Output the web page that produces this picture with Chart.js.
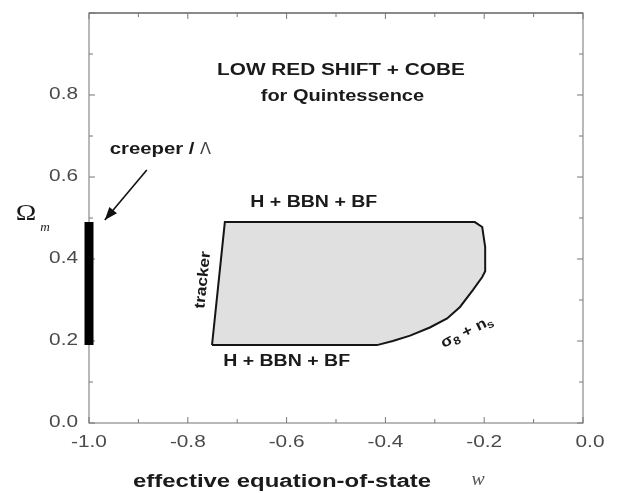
<html>
<body style="margin:0;background:#fff">
<canvas id="myChart" width="620" height="493"></canvas>
<script src="https://cdn.jsdelivr.net/npm/chart.js@4.4.0/dist/chart.umd.min.js"></script>
<script>

// allowed region: w vs Omega_m (traced clockwise from bottom-left corner)
const regionW     = [-0.751, -0.417, -0.385, -0.350, -0.310, -0.275, -0.249, -0.223, -0.204, -0.198, -0.198, -0.204, -0.219, -0.725, -0.751];
const regionOmega = [ 0.190,  0.190,  0.200,  0.213,  0.233,  0.255,  0.283,  0.324,  0.356,  0.370,  0.429,  0.478,  0.490,  0.490,  0.190];

// creeper / Lambda bar at w = -1
const creeperW     = [-1.0, -1.0];
const creeperOmega = [0.19, 0.49];

// arrow pointing at the bar (tail -> tip)
const arrowW     = [-0.883, -0.968];
const arrowOmega = [0.617, 0.495];

const xTickValues = [-1.0, -0.8, -0.6, -0.4, -0.2, 0.0];
const xTickLabels = ["-1.0", "-0.8", "-0.6", "-0.4", "-0.2", "0.0"];
const yTickValues = [0.0, 0.2, 0.4, 0.6, 0.8];
const yTickLabels = ["0.0", "0.2", "0.4", "0.6", "0.8"];

const pts = (xs, ys) => xs.map((x, i) => ({ x: x, y: ys[i] }));

// stretched text helper (the scan is wide), returns drawn width
function txt(ctx, s, x, y, font, opts) {
    opts = opts || {};
    const sx = opts.sx || 1.25;
    ctx.save();
    ctx.translate(x, y);
    if (opts.rot) ctx.rotate(opts.rot * Math.PI / 180);
    ctx.scale(sx, 1);
    ctx.font = font;
    ctx.fillStyle = opts.color || "#1a1a1a";
    ctx.textAlign = opts.align || "center";
    ctx.textBaseline = "middle";
    ctx.fillText(s, 0, 0);
    const w = ctx.measureText(s).width * sx;
    ctx.restore();
    return w;
}

const framePlugin = {
    id: "frame",
    beforeDatasetsDraw(chart) {
        const ctx = chart.ctx, a = chart.chartArea;
        const xs = chart.scales.x, ys = chart.scales.y;
        ctx.save();
        ctx.strokeStyle = "#8a8a8a";
        ctx.lineWidth = 1.2;
        ctx.strokeRect(a.left, a.top, a.right - a.left, a.bottom - a.top);
        ctx.lineWidth = 2.2;
        ctx.beginPath(); ctx.moveTo(a.left, a.top); ctx.lineTo(a.right, a.top); ctx.stroke();

        // inward tick marks, majors from the scale, minors halfway
        ctx.lineWidth = 1;
        ctx.strokeStyle = "#777";
        const xv = xs.ticks.map(t => t.value), yv = ys.ticks.map(t => t.value);
        const marks = (vals) => {
            const out = [];
            vals.forEach((v, i) => {
                out.push([v, 6]);
                if (i < vals.length - 1) out.push([(v + vals[i + 1]) / 2, 4]);
            });
            return out;
        };
        ctx.beginPath();
        marks(xv).forEach(([v, L]) => {
            const p = xs.getPixelForValue(v);
            ctx.moveTo(p, a.bottom); ctx.lineTo(p, a.bottom - L);
            ctx.moveTo(p, a.top); ctx.lineTo(p, a.top + L);
        });
        marks(yv).forEach(([v, L]) => {
            const p = ys.getPixelForValue(v);
            ctx.moveTo(a.left, p); ctx.lineTo(a.left + L, p);
            ctx.moveTo(a.right, p); ctx.lineTo(a.right - L, p);
        });
        ctx.stroke();
        ctx.restore();
    },
    afterDatasetsDraw(chart) {
        const ctx = chart.ctx, a = chart.chartArea;
        const xs = chart.scales.x, ys = chart.scales.y;
        const X = v => xs.getPixelForValue(v), Y = v => ys.getPixelForValue(v);
        const sans = "'Liberation Sans', Arial, sans-serif";

        // tick labels
        xTickValues.forEach((v, i) => txt(ctx, xTickLabels[i], X(v) + (v === 0 ? 7 : 0), a.bottom + 20, "16px " + sans, { color: "#4a4a4a", sx: 1.3 }));
        yTickValues.forEach((v, i) => txt(ctx, yTickLabels[i], a.left - 11, Y(v), "16px " + sans, { color: "#4a4a4a", sx: 1.3, align: "right" }));

        // axis titles
        txt(ctx, "effective equation-of-state", 282, 482, "bold 18px " + sans, { sx: 1.33 });
        txt(ctx, "w", 478, 480, "italic 18px 'Liberation Serif', serif", { color: "#555", sx: 1.1 });
        txt(ctx, "\u03A9", 26, 214, "24px 'Liberation Serif', serif", { sx: 1.15 });
        txt(ctx, "m", 45, 228, "italic 12px 'Liberation Serif', serif", { sx: 1.1 });

        // annotations
        txt(ctx, "LOW RED SHIFT + COBE", X(-0.49), Y(0.86), "bold 16px " + sans, { sx: 1.3 });
        txt(ctx, "for Quintessence", X(-0.487), Y(0.795), "bold 16px " + sans, { sx: 1.25 });
        const cw = txt(ctx, "creeper / ", X(-0.958), Y(0.666), "bold 16px " + sans, { sx: 1.27, align: "left" });
        txt(ctx, "\u039B", X(-0.958) + cw, Y(0.666), "16px 'DejaVu Sans', sans-serif", { sx: 1.0, align: "left", color: "#444" });
        txt(ctx, "H + BBN + BF", X(-0.545), Y(0.537), "bold 16px " + sans, { sx: 1.22 });
        txt(ctx, "H + BBN + BF", X(-0.6), Y(0.149), "bold 16px " + sans, { sx: 1.22 });
        txt(ctx, "tracker", X(-0.769), Y(0.349), "bold 15px " + sans, { sx: 1.15, rot: -84 });

        // sigma_8 + n_s along the curve
        ctx.save();
        ctx.translate(X(-0.235), Y(0.222));
        ctx.rotate(-26 * Math.PI / 180);
        ctx.scale(1.15, 1);
        ctx.fillStyle = "#1a1a1a";
        ctx.textBaseline = "middle";
        const segs = [["\u03C3", 15, 0], ["8", 11, 4], [" + n", 15, 0], ["s", 11, 4]];
        let tw = 0;
        segs.forEach(s => { ctx.font = "bold " + s[1] + "px " + sans; tw += ctx.measureText(s[0]).width; });
        let cx = -tw / 2;
        segs.forEach(s => {
            ctx.font = "bold " + s[1] + "px " + sans;
            ctx.fillText(s[0], cx, s[2]);
            cx += ctx.measureText(s[0]).width;
        });
        ctx.restore();

        // arrow head at the tip
        const tx = X(arrowW[1]), ty = Y(arrowOmega[1]);
        const ang = Math.atan2(ty - Y(arrowOmega[0]), tx - X(arrowW[0]));
        ctx.save();
        ctx.translate(tx, ty);
        ctx.rotate(ang);
        ctx.fillStyle = "#111";
        ctx.beginPath();
        ctx.moveTo(0, 0); ctx.lineTo(-13, -5); ctx.lineTo(-13, 5);
        ctx.closePath(); ctx.fill();
        ctx.restore();
    }
};

const grafico = new Chart("myChart", {
    type: "scatter",
    data: {
        datasets: [{
            data: pts(regionW, regionOmega),
            showLine: true,
            fill: "shape",
            backgroundColor: "#e0e0e0",
            borderColor: "#151515",
            borderWidth: 2,
            pointRadius: 0,
            tension: 0
        }, {
            data: pts(creeperW, creeperOmega),
            showLine: true,
            borderColor: "#000",
            borderWidth: 9,
            borderCapStyle: "butt",
            pointRadius: 0,
            clip: false
        }, {
            data: pts(arrowW, arrowOmega),
            showLine: true,
            borderColor: "#111",
            borderWidth: 1.6,
            pointRadius: 0,
            clip: false
        }]
    },
    options: {
        responsive: false,
        animation: false,
        layout: { padding: { left: 0, top: 13, right: 37, bottom: 0 } },
        plugins: { legend: { display: false }, tooltip: { enabled: false } },
        scales: {
            x: {
                type: "linear", min: -1, max: 0,
                ticks: { display: false, stepSize: 0.2 },
                grid: { display: false, drawTicks: false },
                border: { display: false },
                afterFit(s) { s.height = 70; }
            },
            y: {
                type: "linear", min: 0, max: 1,
                ticks: { display: false, stepSize: 0.2 },
                grid: { display: false, drawTicks: false },
                border: { display: false },
                afterFit(s) { s.width = 89; }
            }
        }
    },
    plugins: [framePlugin]
});
</script>
</body>
</html>
